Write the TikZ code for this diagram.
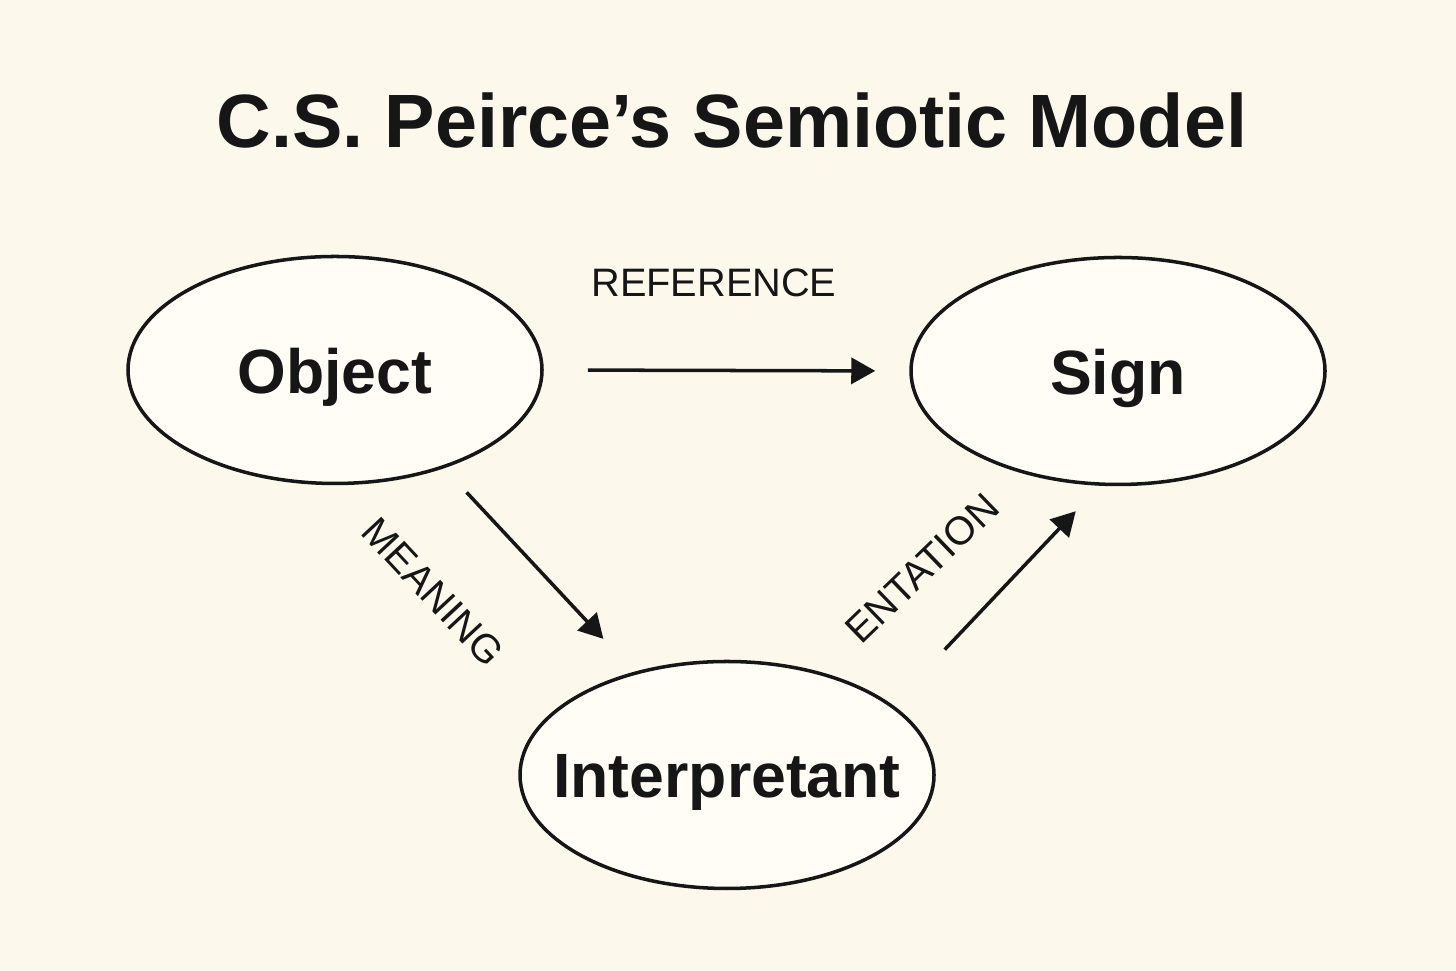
\documentclass[tikz,border=0pt]{standalone}
\usepackage{fontspec}
\setmainfont{Liberation Sans}
\usepackage{xcolor}
\usetikzlibrary{shapes.geometric, positioning, calc, arrows.meta}
\definecolor{paper}{HTML}{FCF9EC}
\definecolor{blobfill}{HTML}{FFFDF6}
\definecolor{ink}{HTML}{161616}
\tikzset{
    blob/.style={ellipse, draw=ink, line width=1pt, fill=blobfill, inner sep=0pt,
        minimum width=4.14cm, minimum height=2.27cm},
    blobtext/.style={font=\fontsize{17.8}{20}\selectfont\bfseries, text=ink, yshift=-0.07cm},
    relarrow/.style={draw=ink, line width=1pt, -{Triangle[length=0.24cm, width=0.26cm]}},
    reltext/.style={font=\fontsize{11.3}{13}\selectfont, text=ink}
}

\begin{document}
\begin{tikzpicture}
            % Page and background
            \fill[paper] (0,0) rectangle (14.56,9.71);
            \useasboundingbox (0,0) rectangle (14.56,9.71);
            
            % Title
            \node[anchor=base, font=\fontsize{21.5}{24}\selectfont\bfseries, text=ink] (title) at (7.32,8.23) {C.S. Peirce’s Semiotic Model};
            
            % The three corners of the triad
            \node[blob, label={[blobtext]center:Object}] (obj) at (3.35,6.01) {};
            \node[blob, label={[blobtext]center:Sign}] (sign) at (11.18,6.00) {};
            \node[blob, label={[blobtext]center:Interpretant}] (interp) at (7.27,1.96) {};
            
            % Relations
            \draw[relarrow, shorten <=0.44cm, shorten >=0.34cm] (obj.east) -- (sign.west);
            \draw[relarrow, shorten <=0.33cm, shorten >=0.45cm] (obj.-42) -- (interp.132);
            \draw[relarrow, shorten <=0.76cm, shorten >=0.35cm] (interp.23) -- (sign.-99);
            
            % Relation labels
            \node[reltext, anchor=base] (reflabel) at (7.14,6.74) {REFERENCE};
            \node[reltext, rotate=-47] (meanlabel) at (4.33,3.79) {MEANING};
            \node[reltext, rotate=44] (reprlabel) at (9.22,4.03) {ENTATION};
        \end{tikzpicture}
\end{document}
